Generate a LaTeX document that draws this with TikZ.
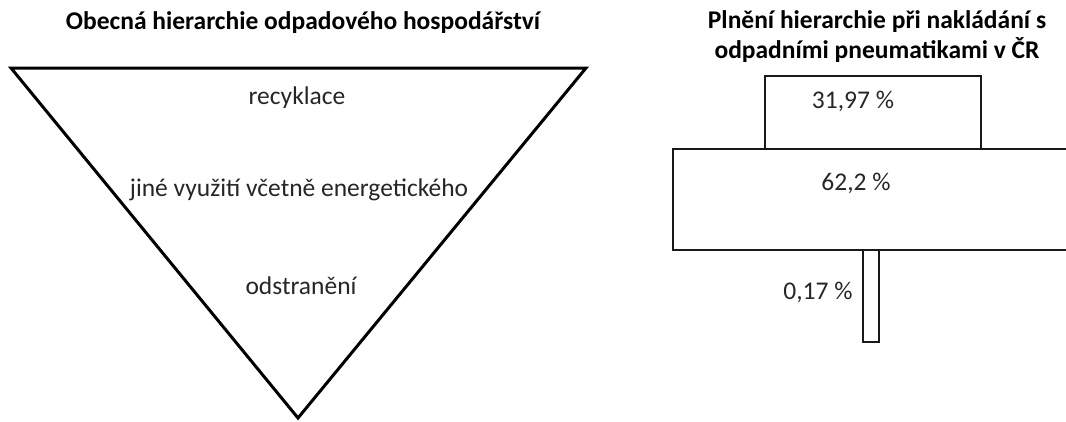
\documentclass[tikz,border=0pt]{standalone}
\usepackage{fontspec}
\setmainfont{Carlito}
\begin{document}
\begin{tikzpicture}[x=1pt,y=-1pt,
  title/.style={font=\bfseries\fontsize{25.5}{30}\selectfont, align=center, text=black, inner sep=0pt},
  lab/.style={font=\fontsize{25.5}{30}\selectfont, text=black!85, inner sep=0pt},
  shapeline/.style={draw=black, line width=3pt, line join=miter},
  boxline/.style={draw=black!90, line width=2pt}]
\useasboundingbox (0,0) rectangle (1066,421);
\clip (0,0) rectangle (1066,421);
% left
\node[title] (t1) at (303,23) {Obecná hierarchie odpadového hospodářství};
\coordinate (a) at (11,68);
\coordinate (b) at (586,68);
\coordinate (c) at (298,418);
\draw[shapeline] (a) -- (b) -- (c) -- cycle;
\node[lab] (l1) at (297,98) {recyklace};
\node[lab] (l2) at (299,190) {jiné využití včetně energetického};
\node[lab] (l3) at (301,286) {odstranění};
% right
\node[title] (t2) at (877,37) {Plnění hierarchie při nakládání s\\odpadními pneumatikami v ČR};
\node[boxline, minimum width=216pt, minimum height=73pt, anchor=north west] (r1) at (764,75) {};
\node[boxline, minimum width=410pt, minimum height=101pt, anchor=north west] (r2) at (672,148) {};
\node[boxline, minimum width=16pt, minimum height=92pt, anchor=north west, fill=white] (r3) at (862,249) {};
\node[lab] (p1) at (853,101) {31,97 \%};
\node[lab] (p2) at (856,183) {62,2 \%};
\node[lab] (p3) at (818,292) {0,17 \%};
\end{tikzpicture}
\end{document}
